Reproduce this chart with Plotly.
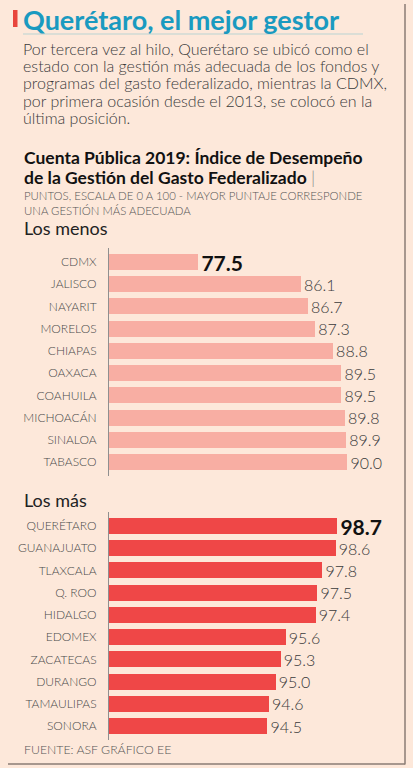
import plotly.graph_objects as go

W, H = 413, 768

# ---- data ----
menos_estados = ["CDMX", "JALISCO", "NAYARIT", "MORELOS", "CHIAPAS", "OAXACA",
                 "COAHUILA", "MICHOACÁN", "SINALOA", "TABASCO"]
menos_valores = [77.5, 86.1, 86.7, 87.3, 88.8, 89.5, 89.5, 89.8, 89.9, 90.0]

mas_estados = ["QUERÉTARO", "GUANAJUATO", "TLAXCALA", "Q. ROO", "HIDALGO", "EDOMEX",
               "ZACATECAS", "DURANGO", "TAMAULIPAS", "SONORA"]
mas_valores = [98.7, 98.6, 97.8, 97.5, 97.4, 95.6, 95.3, 95.0, 94.6, 94.5]

titulo = "Querétaro, el mejor gestor"
parrafo = [
    "Por tercera vez al hilo, Querétaro se ubicó como el",
    "estado con la gestión más adecuada de los fondos y",
    "programas del gasto federalizado, mientras la CDMX,",
    "por primera ocasión desde el 2013, se colocó en la",
    "última posición.",
]
subtitulo = ["Cuenta Pública 2019: Índice de Desempeño",
             "de la Gestión del Gasto Federalizado"]
nota = ["PUNTOS, ESCALA DE 0 A 100 - MAYOR PUNTAJE CORRESPONDE",
        "UNA GESTIÓN MÁS ADECUADA"]
fuente = "FUENTE: ASF GRÁFICO EE"

BG = "#fde8da"
LIGHT = "#f8aea3"
DARK = "#ef4747"
FONT = "Lato"


def py(p):
    return 1 - p / H


def px(p):
    return p / W


fig = go.Figure()

def labels(vals):
    txt, sizes, colors = [], [], []
    for i, v in enumerate(vals):
        if i == 0:
            txt.append(f"<b>{v:.1f}</b>")
            sizes.append(21)
            colors.append("#111111")
        else:
            txt.append(f"{v:.1f}")
            sizes.append(16)
            colors.append("#3a3a3a")
    return txt, sizes, colors

t1, s1, c1 = labels(menos_valores)
fig.add_trace(go.Bar(
    x=menos_valores, y=menos_estados, orientation="h",
    marker=dict(color=LIGHT, line=dict(width=0)), width=0.72,
    text=t1, textposition="outside", cliponaxis=False, constraintext="none",
    textfont=dict(size=s1, color=c1, family=FONT, weight=300),
    xaxis="x", yaxis="y", hoverinfo="skip",
))

t2, s2, c2 = labels(mas_valores)
fig.add_trace(go.Bar(
    x=mas_valores, y=mas_estados, orientation="h",
    marker=dict(color=DARK, line=dict(width=0)), width=0.72,
    text=t2, textposition="outside", cliponaxis=False, constraintext="none",
    textfont=dict(size=s2, color=c2, family=FONT, weight=300),
    xaxis="x2", yaxis="y2", hoverinfo="skip",
))

ax_common = dict(showgrid=False, zeroline=False, showticklabels=False, fixedrange=True,
                 automargin=False)
ycommon = dict(showgrid=False, zeroline=False, showline=True, linecolor="#8f8f8f", linewidth=1,
               ticks="", ticklabelstandoff=9, automargin=False,
               tickfont=dict(family=FONT, size=12, color="#4a4a4a", weight=300),
               fixedrange=True)

fig.update_layout(
    width=W, height=H,
    margin=dict(l=0, r=0, t=0, b=0, autoexpand=False),
    paper_bgcolor=BG, plot_bgcolor="rgba(0,0,0,0)",
    showlegend=False,
    bargap=0,
    xaxis=dict(domain=[px(109), 1], range=[70, 70 + 304 / 11.92], anchor="y", **ax_common),
    yaxis=dict(domain=[py(476), py(248)], range=[9.63, -0.63], anchor="x", **ycommon),
    xaxis2=dict(domain=[px(109), 1], range=[85, 85 + 304 / 16.67], anchor="y2", **ax_common),
    yaxis2=dict(domain=[py(740), py(512)], range=[9.63, -0.63], anchor="x2", **ycommon),
)

ann = []
def text(x, y, s, size, color="#333333", weight=None, family=FONT):
    f = dict(family=family, size=size, color=color)
    if weight:
        f["weight"] = weight
    ann.append(dict(x=px(x), y=py(y), xref="paper", yref="paper", text=s, showarrow=False,
                    xanchor="left", yanchor="middle", font=f, align="left"))


def block(x, y_first, spacing, lines, size, color, weight=None, bold=False):
    # one annotation per block; line spacing set by base size (1.3 em)
    base = spacing / 1.3
    parts = []
    for ln in lines:
        s = f"<span style='font-size:{size}px'>{ln}</span>"
        if bold:
            s = f"<b>{s}</b>"
        parts.append(s)
    f = dict(family=FONT, size=base, color=color)
    if weight:
        f["weight"] = weight
    ann.append(dict(x=px(x), y=py(y_first), xref="paper", yref="paper", text="<br>".join(parts),
                    showarrow=False, xanchor="left", yanchor="middle", font=f, align="left",
                    yshift=-spacing * (len(lines) - 1) / 2))


text(21, 19, f"<b>{titulo}</b>", 27, color="#1a9ac0", weight=900)
block(21, 49, 17.2, parrafo, 16, "#3a3a3a", weight=300)
block(22, 157.5, 19.6, [subtitulo[0], subtitulo[1] + " <span style='color:#888;font-weight:300'>|</span>"],
      17.5, "#111111", bold=True)
block(22, 196, 15, nota, 11.4, "#555555", weight=300)
text(22, 228, "Los menos", 18, color="#222222")
text(22, 500, "Los más", 18, color="#222222")
text(22, 749, fuente, 12.3, color="#555555", weight=300)
fig.update_layout(annotations=ann)

shapes = [
    dict(type="rect", xref="paper", yref="paper", x0=px(13), x1=px(17.5), y0=py(10), y1=py(27),
         fillcolor="#e8453c", line=dict(width=0)),
    dict(type="line", xref="paper", yref="paper", x0=px(23), x1=px(363), y0=py(34), y1=py(34),
         line=dict(color="#b9d3d2", width=1)),
    dict(type="line", xref="paper", yref="paper", x0=px(405), x1=px(405), y0=py(4), y1=py(764.5),
         line=dict(color="#8a7c74", width=1.5)),
    dict(type="line", xref="paper", yref="paper", x0=px(8), x1=px(405), y0=py(764), y1=py(764),
         line=dict(color="#8a7c74", width=1.5)),
]
fig.update_layout(shapes=shapes)

fig.write_html("out.html", config={"displayModeBar": False, "staticPlot": True},
               post_script="document.body.style.margin='0';document.body.style.overflow='hidden';")
